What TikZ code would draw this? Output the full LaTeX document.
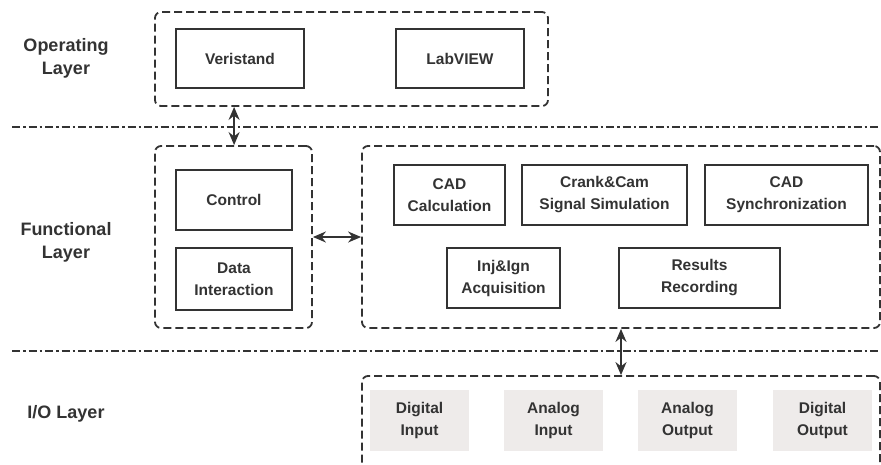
\documentclass[tikz,border=0pt]{standalone}
\usepackage{fontspec}
\setmainfont{Liberation Sans}
\usetikzlibrary{arrows.meta}
\definecolor{ink}{HTML}{333333}
\definecolor{iofill}{HTML}{EEEBEA}
\tikzset{
  box/.style={draw=ink, line width=1.7pt, fill=white, text=ink, align=center,
    font=\fontsize{15.5}{22}\selectfont\bfseries, inner sep=0pt},
  iobox/.style={fill=iofill, text=ink, align=center,
    font=\fontsize{15.5}{22}\selectfont\bfseries, inner sep=0pt},
  group/.style={draw=ink, line width=1.8pt, dash pattern=on 8pt off 4pt, rounded corners=6pt},
  layerline/.style={draw=ink, line width=1.6pt, dash pattern=on 8pt off 3pt on 2.5pt off 3pt},
  layerlabel/.style={text=ink, align=center, font=\fontsize{18}{23}\selectfont\bfseries},
  link/.style={draw=ink, line width=2pt, {Stealth[length=13pt,width=11pt]}-{Stealth[length=13pt,width=11pt]}}
}
\newcommand{\boxat}[6]{% name, x1, y1, x2, y2, text
  \node[box, minimum width={#4-#2}, minimum height={#5-#3}] (#1) at ({(#2+#4)/2},{(#3+#5)/2}) {#6};}
\newcommand{\ioat}[6]{%
  \node[iobox, minimum width={#4-#2}, minimum height={#5-#3}] (#1) at ({(#2+#4)/2},{(#3+#5)/2}) {#6};}
\begin{document}
\begin{tikzpicture}[x=1pt,y=-1pt]
\useasboundingbox (0,0) rectangle (881,464);

% layer labels
\node[layerlabel] (lop) at (66,58) {Operating\\Layer};
\node[layerlabel] (lfn) at (66,242) {Functional\\Layer};
\node[layerlabel] (lio) at (66,414) {I/O Layer};

% layer separators
\coordinate (s1a) at (12,127);
\coordinate (s1b) at (881,127);
\coordinate (s2a) at (12,351);
\coordinate (s2b) at (881,351);
\draw[layerline] (s1a) -- (s1b);
\draw[layerline] (s2a) -- (s2b);

% group containers
\node[group, minimum width=393pt, minimum height=94pt, inner sep=0pt] (gop) at (351.5,59) {};
\node[group, minimum width=157pt, minimum height=182pt, inner sep=0pt] (gctl) at (233.5,237) {};
\node[group, minimum width=518pt, minimum height=182pt, inner sep=0pt] (gfn) at (621,237) {};
\node[group, minimum width=518pt, minimum height=120pt, inner sep=0pt] (gio) at (621,436) {};

% operating layer
\boxat{veri}{176}{29}{304}{88}{Veristand}
\boxat{labv}{396}{29}{524}{88}{LabVIEW}

% functional layer, control side
\boxat{ctrl}{176}{170}{292}{230}{Control}
\boxat{data}{176}{248}{292}{310}{Data\\Interaction}

% functional layer, processing side
\boxat{cadc}{394}{165}{505}{225}{CAD\\Calculation}
\boxat{crank}{522}{165}{687}{225}{Crank\&Cam\\Signal Simulation}
\boxat{cads}{705}{165}{868}{225}{CAD\\Synchronization}
\boxat{inj}{447}{248}{560}{308}{Inj\&Ign\\Acquisition}
\boxat{res}{619}{248}{780}{308}{Results\\Recording}

% I/O layer
\ioat{di}{370}{390}{469}{451}{Digital\\Input}
\ioat{ai}{504}{390}{603}{451}{Analog\\Input}
\ioat{ao}{638}{390}{737}{451}{Analog\\Output}
\ioat{do}{773}{390}{872}{451}{Digital\\Output}

% links between groups
\draw[link] (gop.south west) ++(80,0) coordinate (a1) -- (a1 |- gctl.north);
\draw[link] (gctl.east |- 0,237) -- (gfn.west |- 0,237);
\draw[link] (gfn.south) -- (gio.north);
\end{tikzpicture}
\end{document}
